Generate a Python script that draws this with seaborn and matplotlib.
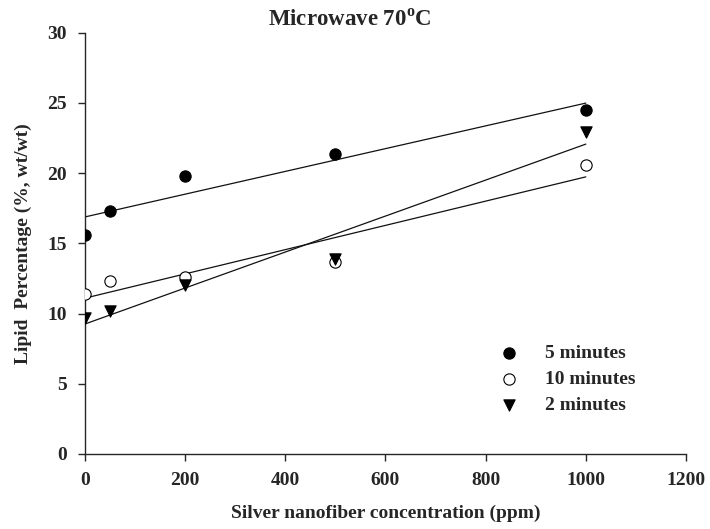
import matplotlib
matplotlib.use("Agg")
import matplotlib.pyplot as plt
import seaborn as sns
import pandas as pd

concentration = [0, 50, 200, 500, 1000]
lipid_5min = [15.6, 17.3, 19.8, 21.4, 24.5]
lipid_10min = [11.4, 12.3, 12.6, 13.7, 20.6]
lipid_2min = [9.7, 10.2, 12.0, 13.9, 22.9]
series_labels = ["5 minutes", "10 minutes", "2 minutes"]
x_ticks = [0, 200, 400, 600, 800, 1000, 1200]
y_ticks = [0, 5, 10, 15, 20, 25, 30]

sns.set_style("ticks")
plt.rcParams['font.family'] = ['Liberation Serif', 'DejaVu Serif']
plt.rcParams['font.weight'] = 'bold'
plt.rcParams['mathtext.fontset'] = 'custom'
plt.rcParams['mathtext.rm'] = 'Liberation Serif:bold'
plt.rcParams['mathtext.bf'] = 'Liberation Serif:bold'

fig = plt.figure(figsize=(7.1, 5.29), dpi=100)
ax = fig.add_axes([0.1197, 0.142, 0.8465, 0.796])

styles = [
    dict(marker="o", facecolor="black"),
    dict(marker="o", facecolor="white"),
    dict(marker="v", facecolor="black"),
]
data = [lipid_5min, lipid_10min, lipid_2min]

for vals, lab, st in zip(data, series_labels, styles):
    df = pd.DataFrame({"x": concentration, "y": vals})
    sns.regplot(data=df, x="x", y="y", ax=ax, ci=None, scatter=False,
                line_kws=dict(color="#111111", lw=0.9))
for vals, lab, st in zip(data, series_labels, styles):
    df = pd.DataFrame({"x": concentration, "y": vals})
    sns.scatterplot(data=df, x="x", y="y", ax=ax, marker=st["marker"],
                    color=st["facecolor"], edgecolor="black", linewidth=0.8,
                    s=66, label=lab, zorder=3)

ax.set_xlim(0, 1200)
ax.set_ylim(0, 30)
ax.set_xticks(x_ticks)
ax.set_yticks(y_ticks)
ax.tick_params(labelsize=14, direction="out", length=5, width=1, pad=8)
for t in ax.get_xticklabels() + ax.get_yticklabels():
    t.set_fontweight("bold")
sns.despine(ax=ax)
ax.spines["left"].set_linewidth(1)
ax.spines["bottom"].set_linewidth(1)

ax.set_xlabel("Silver nanofiber concentration (ppm)", fontsize=14, fontweight="bold", labelpad=11)
ax.set_ylabel("Lipid  Percentage (%, wt/wt)", fontsize=14, fontweight="bold")
ax.yaxis.set_label_coords(-0.088, 0.5)
fig.text(268 / 710, 1 - 20 / 529, r"Microwave 70$^{\mathrm{o}}$C", fontsize=16.5,
         fontweight="bold", ha="left", va="center")

leg = ax.legend(loc="upper left", frameon=False,
                prop=dict(size=14, weight="bold"), handletextpad=1.25,
                labelspacing=0.43, borderaxespad=0, handlelength=1.2)
leg.set_bbox_to_anchor((0.69, 0.363), transform=fig.transFigure)

fig.savefig("out.png", dpi=100)
